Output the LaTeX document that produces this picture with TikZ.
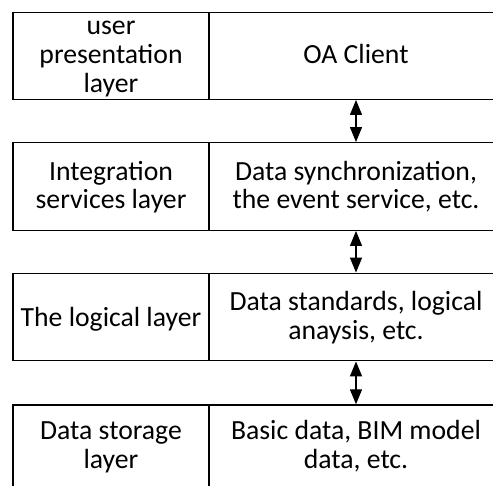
\documentclass[tikz,border=0pt]{standalone}
\usepackage{fontspec}
\setmainfont{Carlito}
\usetikzlibrary{arrows.meta}
\begin{document}
\begin{tikzpicture}[x=1pt,y=-1pt,
  cell/.style={draw=black,line width=1.4pt,inner sep=0pt,minimum width=#1},
  cell/.default=196pt,
  txt/.style={anchor=base,inner sep=0pt,font=\fontsize{27.7}{29}\selectfont},
  link/.style={line width=1.3pt,{Triangle[length=15pt,width=12pt]}-{Triangle[length=15pt,width=12pt]}}]
\useasboundingbox (0,0) rectangle (493,485);
\clip (0,0) rectangle (493,485);
% boxes
\node[cell,minimum height=86.5pt] (l1) at (111,56) {};
\node[cell=294pt,minimum height=86.5pt] (r1) at (356,56) {};
\node[cell,minimum height=87.5pt] (l2) at (111,186.5) {};
\node[cell=294pt,minimum height=87.5pt] (r2) at (356,186.5) {};
\node[cell,minimum height=87.5pt] (l3) at (111,317) {};
\node[cell=294pt,minimum height=87.5pt] (r3) at (356,317) {};
\node[cell,minimum height=88pt] (l4) at (111,449) {};
\node[cell=294pt,minimum height=88pt] (r4) at (356,449) {};
% texts
\node[txt] (t1a) at (111,34.3) {user};
\node[txt] (t1b) at (111,63.3) {presentation};
\node[txt] (t1c) at (111,92.3) {layer};
\node[txt] (t1r) at (356,63.3) {OA Client};
\node[txt] (t2a) at (111,180) {Integration};
\node[txt] (t2b) at (111,208.3) {services layer};
\node[txt] (t2c) at (356,180) {Data synchronization,};
\node[txt] (t2d) at (356,208.3) {the event service, etc.};
\node[txt] (t3a) at (111,326) {The logical layer};
\node[txt] (t3b) at (356,310.7) {Data standards, logical};
\node[txt] (t3c) at (356,339) {anaysis, etc.};
\node[txt] (t4a) at (111,439.3) {Data storage};
\node[txt] (t4b) at (111,468.3) {layer};
\node[txt] (t4c) at (356,439.3) {Basic data, BIM model};
\node[txt] (t4d) at (356,468.3) {data, etc.};
% arrows
\draw[link] (r1.south) -- (r2.north);
\draw[link] (r2.south) -- (r3.north);
\draw[link] (r3.south) -- (r4.north);
\end{tikzpicture}
\end{document}
